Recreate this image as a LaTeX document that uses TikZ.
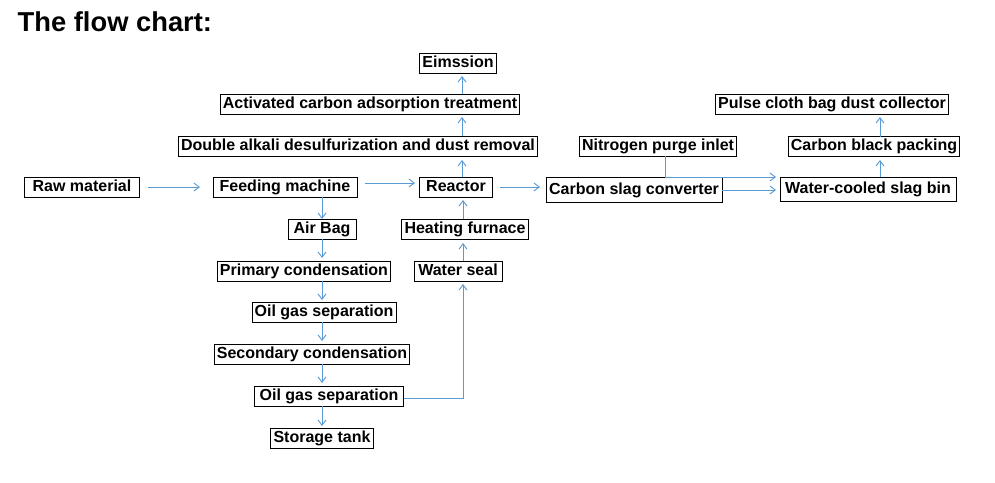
\documentclass[tikz,border=0pt]{standalone}
\usepackage{fontspec}
\setmainfont{Liberation Sans}
\usetikzlibrary{arrows.meta}
\begin{document}
\begin{tikzpicture}[x=0.75pt,y=-0.75pt,
  box/.style={draw=black,line width=0.6pt,font=\bfseries\fontsize{12}{14}\selectfont,inner xsep=2pt,inner ysep=2pt,anchor=center,text height=8.5pt,text depth=2.5pt},
  arr/.style={draw={rgb,255:red,91;green,155;blue,213},line width=0.7pt,-{Straight Barb[length=4pt,width=6pt]}}]
\useasboundingbox (0,0) rectangle (995,482);
\node[anchor=west,font=\bfseries\fontsize{20.5}{24}\selectfont] (title) at (13,22) {The flow chart:};
\node[box] (em) at (458,63) {Eimssion};
\node[box] (ac) at (370,104) {Activated carbon adsorption treatment};
\node[box] (da) at (358,146) {Double alkali desulfurization and dust removal};
\node[box,minimum width=86pt] (raw) at (82,187) {Raw material};
\node[box,minimum width=108pt] (feed) at (285,187) {Feeding machine};
\node[box,minimum width=55pt] (re) at (456,187) {Reactor};
\node[box,minimum height=19pt,minimum width=132pt] (cs) at (634,190) {Carbon slag converter};
\node[box] (np) at (658,146) {Nitrogen purge inlet};
\node[box,minimum height=18pt,minimum width=132pt] (wc) at (868,189) {Water-cooled slag bin};
\node[box] (cb) at (874,146) {Carbon black packing};
\node[box] (pc) at (832,104) {Pulse cloth bag dust collector};
\node[box,minimum width=51pt] (ab) at (322,229) {Air Bag};
\node[box] (hf) at (465,229) {Heating furnace};
\node[box] (pr) at (304,271) {Primary condensation};
\node[box,minimum width=66pt] (ws) at (458,271) {Water seal};
\node[box] (og1) at (324,312) {Oil gas separation};
\node[box] (sc) at (312,354) {Secondary condensation};
\node[box,minimum width=112pt] (og2) at (329,396) {Oil gas separation};
\node[box,minimum width=77pt] (st) at (322,438) {Storage tank};
\draw[arr] (148,187) -- (200,187);
\draw[arr] (365,183) -- (415,183);
\draw[arr] (500,187) -- (540,187);
\draw[arr] (462,177) -- (462,160);
\draw[arr] (462,136) -- (462,117);
\draw[arr] (462,94) -- (462,76);
\draw[arr] (322,197) -- (322,219);
\draw[arr] (322,239) -- (322,258);
\draw[arr] (322,281) -- (322,300);
\draw[arr] (322,322) -- (322,341);
\draw[arr] (322,364) -- (322,383);
\draw[arr] (322,406) -- (322,426);
\draw[arr] (og2.east |- 0,398) -- (463,398) -- (463,284);
\draw[arr] (463,261) -- (463,243);
\draw[arr] (463,219) -- (463,200);
\draw[arr] (cs.east) -- (776,190);
\draw[arr] (np.south -| 665,0) -- (665,177) -- (776,177);
\draw[arr] (880,177) -- (880,160);
\draw[arr] (880,137) -- (880,117);
\end{tikzpicture}
\end{document}
